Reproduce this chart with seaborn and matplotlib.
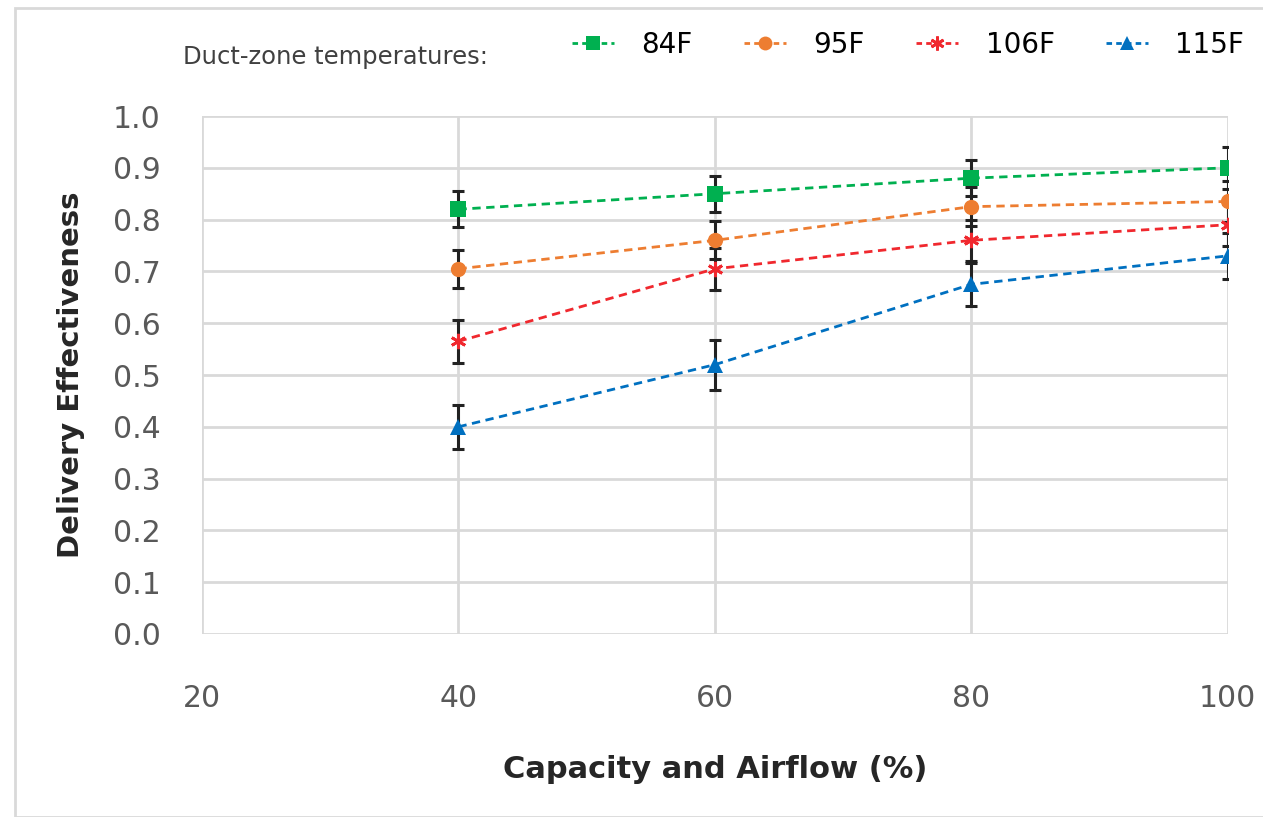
import numpy as np
import pandas as pd
import seaborn as sns
import matplotlib.pyplot as plt
from matplotlib.patches import Rectangle

# data
capacity = [40, 60, 80, 100]
temps = ["84F", "95F", "106F", "115F"]
eff_84 = [0.82, 0.85, 0.88, 0.90]
eff_95 = [0.705, 0.76, 0.825, 0.835]
eff_106 = [0.565, 0.705, 0.76, 0.79]
eff_115 = [0.40, 0.52, 0.675, 0.73]
err_84 = [0.035, 0.035, 0.035, 0.04]
err_95 = [0.037, 0.037, 0.037, 0.04]
err_106 = [0.042, 0.04, 0.04, 0.04]
err_115 = [0.043, 0.048, 0.042, 0.045]

colors = ["#00B050", "#ED7D31", "#F0282E", "#0070C0"]
markers = ["s", "o", (6, 2, 0), "^"]

rows = []
for t, vals, errs in zip(temps, [eff_84, eff_95, eff_106, eff_115],
                         [err_84, err_95, err_106, err_115]):
    for c, v, e in zip(capacity, vals, errs):
        rows.append({"cap": c, "eff": v, "err": e, "temp": t})
df = pd.DataFrame(rows)

sns.set_style("whitegrid")
plt.rcParams['font.family'] = ['DejaVu Sans']

fig = plt.figure(figsize=(12.63, 8.17), dpi=100)
ax = fig.add_axes([0.16, 0.224, 0.812, 0.634])

# error bars first (black caps)
for t in temps:
    d = df[df.temp == t]
    ax.errorbar(d.cap, d.eff, yerr=d.err, fmt="none", ecolor="#222222",
                elinewidth=2.2, capsize=4, capthick=2.2, zorder=2)

for t, c, m in zip(temps, colors, markers):
    d = df[df.temp == t]
    star = m == (6, 2, 0)
    sns.lineplot(data=d, x="cap", y="eff", color=c, marker=m,
                 linestyle=(0, (3, 2)), markersize=11, linewidth=2,
                 markeredgewidth=2 if star else 0, markeredgecolor=c,
                 ax=ax, zorder=3)

ax.set_xlim(20, 100)
ax.set_ylim(0, 1.0)
ax.set_xticks([20, 40, 60, 80, 100])
ax.set_yticks(np.arange(0, 1.01, 0.1))
ax.set_yticklabels([f"{v:.1f}" for v in np.arange(0, 1.01, 0.1)])
ax.tick_params(axis="both", labelsize=21.5, labelcolor="#595959", length=0)
ax.tick_params(axis="x", pad=36)
ax.tick_params(axis="y", pad=30)
ax.grid(color="#D9D9D9", linewidth=2)
for s in ax.spines.values():
    s.set_visible(False)
ax.set_xlabel("Capacity and Airflow (%)", fontsize=22, fontweight="bold",
              labelpad=30)
ax.set_ylabel("Delivery Effectiveness", fontsize=21, fontweight="bold",
              labelpad=20)

# legend
fig.text(0.145, 0.93, "Duct-zone temperatures:", fontsize=17.5, color="#404040",
         va="center")
handles = [plt.Line2D([], [], color=c, marker=m, linestyle=(0, (2, 1.5)),
                      markersize=10, linewidth=2,
                      markeredgewidth=2 if m == (6, 2, 0) else 0,
                      markeredgecolor=c)
           for c, m in zip(colors, markers)]
leg = fig.legend(handles, temps, loc="center left", bbox_to_anchor=(0.433, 0.945),
                 ncol=4, frameon=False, fontsize=20, handlelength=1.5,
                 columnspacing=1.85, handletextpad=1.0)
for txt in leg.get_texts():
    txt.set_color("black")

fig.patches.append(Rectangle((0.012, 0.0), 0.99, 0.99, transform=fig.transFigure,
                             fill=False, edgecolor="#D9D9D9", linewidth=2))

fig.savefig("out.png", dpi=100)
